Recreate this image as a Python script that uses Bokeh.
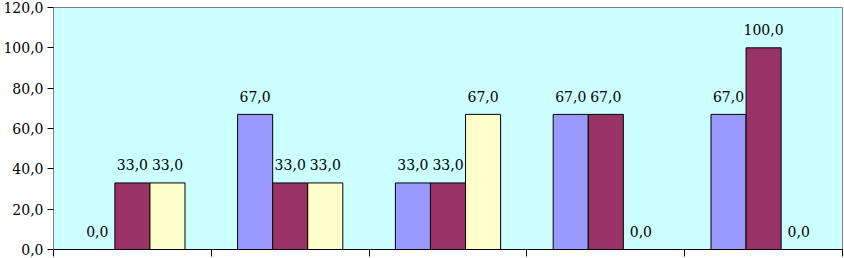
from bokeh.plotting import figure
from bokeh.models import ColumnDataSource, Range1d, FixedTicker
from bokeh.transform import dodge
from bokeh.core.properties import value
from bokeh.embed import file_html
from bokeh.resources import INLINE

categories = ["1", "2", "3", "4", "5"]
series_a = [0.0, 67.0, 33.0, 67.0, 67.0]
series_b = [33.0, 33.0, 33.0, 67.0, 100.0]
series_c = [33.0, 33.0, 67.0, 0.0, 0.0]
y_ticks = [0, 20, 40, 60, 80, 100, 120]
colors = ["#9999FF", "#993366", "#FFFFCC"]

FONT = "DejaVu Serif"


def fmt(v):
    return f"{v:.1f}".replace(".", ",")


p = figure(width=844, height=258, output_backend="svg", toolbar_location=None,
           x_range=Range1d(0, len(categories)), y_range=Range1d(0, 120),
           min_border_left=49, min_border_right=2, min_border_top=7, min_border_bottom=9)
p.background_fill_color = "#CCFFFF"
p.border_fill_color = "white"
p.outline_line_color = "#808080"
p.outline_line_width = 1
p.xgrid.visible = False
p.ygrid.visible = False

xc = [i + 0.5 for i in range(len(categories))]
w = 1 / 4.5
offsets = [-w, 0.0, w]
for vals, col, off in zip([series_a, series_b, series_c], colors, offsets):
    src = ColumnDataSource(dict(x=xc, top=vals, lab=[fmt(v) for v in vals]))
    p.vbar(x=dodge("x", off), top="top", width=w, source=src,
           fill_color=col, line_color="black", line_width=1)
    p.text(x=dodge("x", off), y="top", text="lab", source=src,
           text_font=value(FONT), text_font_size="14px",
           text_color="black", text_align="center", text_baseline="middle",
           y_offset=-18)

# y axis
p.yaxis.ticker = FixedTicker(ticks=y_ticks)
p.yaxis.major_label_overrides = {t: fmt(t) for t in y_ticks}
p.yaxis.major_label_text_font = FONT
p.yaxis.major_label_text_font_size = "14px"
p.yaxis.major_label_text_color = "black"
p.yaxis.major_tick_in = 0
p.yaxis.major_tick_out = 6
p.yaxis.major_tick_line_color = "black"
p.yaxis.minor_tick_line_color = None
p.yaxis.axis_line_color = "#808080"
p.yaxis.major_label_standoff = 4

# x axis (category boundaries, no labels)
p.xaxis.ticker = FixedTicker(ticks=list(range(len(categories) + 1)))
p.xaxis.major_label_overrides = {i: "" for i in range(len(categories) + 1)}
p.xaxis.major_label_text_font_size = "0px"
p.xaxis.major_label_standoff = 0
p.xaxis.major_tick_in = 0
p.xaxis.major_tick_out = 7
p.xaxis.major_tick_line_color = "black"
p.xaxis.minor_tick_line_color = None
p.xaxis.axis_line_color = "black"

open("out.html", "w").write(file_html(p, INLINE))
